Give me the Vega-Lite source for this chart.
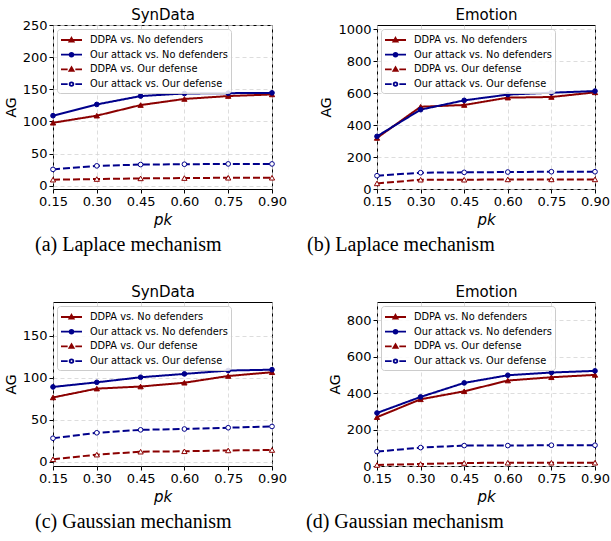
{
  "$schema": "https://vega.github.io/schema/vega-lite/v6.json",
  "background": "white",
  "padding": {"left": 3, "top": 6, "right": 2, "bottom": 5},
  "datasets": {
    "ag": [
      {"panel": "a", "pk": 0.15, "series": "DDPA vs. No defenders", "ag": 98},
      {"panel": "a", "pk": 0.30, "series": "DDPA vs. No defenders", "ag": 109},
      {"panel": "a", "pk": 0.45, "series": "DDPA vs. No defenders", "ag": 125.5},
      {"panel": "a", "pk": 0.60, "series": "DDPA vs. No defenders", "ag": 135},
      {"panel": "a", "pk": 0.75, "series": "DDPA vs. No defenders", "ag": 139.5},
      {"panel": "a", "pk": 0.90, "series": "DDPA vs. No defenders", "ag": 142},
      {"panel": "a", "pk": 0.15, "series": "Our attack vs. No defenders", "ag": 109},
      {"panel": "a", "pk": 0.30, "series": "Our attack vs. No defenders", "ag": 126.5},
      {"panel": "a", "pk": 0.45, "series": "Our attack vs. No defenders", "ag": 139.5},
      {"panel": "a", "pk": 0.60, "series": "Our attack vs. No defenders", "ag": 143.5},
      {"panel": "a", "pk": 0.75, "series": "Our attack vs. No defenders", "ag": 144},
      {"panel": "a", "pk": 0.90, "series": "Our attack vs. No defenders", "ag": 144.5},
      {"panel": "a", "pk": 0.15, "series": "DDPA vs. Our defense", "ag": 9.5},
      {"panel": "a", "pk": 0.30, "series": "DDPA vs. Our defense", "ag": 10.5},
      {"panel": "a", "pk": 0.45, "series": "DDPA vs. Our defense", "ag": 11.5},
      {"panel": "a", "pk": 0.60, "series": "DDPA vs. Our defense", "ag": 12},
      {"panel": "a", "pk": 0.75, "series": "DDPA vs. Our defense", "ag": 12.5},
      {"panel": "a", "pk": 0.90, "series": "DDPA vs. Our defense", "ag": 12.5},
      {"panel": "a", "pk": 0.15, "series": "Our attack vs. Our defense", "ag": 25.5},
      {"panel": "a", "pk": 0.30, "series": "Our attack vs. Our defense", "ag": 31},
      {"panel": "a", "pk": 0.45, "series": "Our attack vs. Our defense", "ag": 33},
      {"panel": "a", "pk": 0.60, "series": "Our attack vs. Our defense", "ag": 33.5},
      {"panel": "a", "pk": 0.75, "series": "Our attack vs. Our defense", "ag": 34},
      {"panel": "a", "pk": 0.90, "series": "Our attack vs. Our defense", "ag": 34},

      {"panel": "b", "pk": 0.15, "series": "DDPA vs. No defenders", "ag": 319},
      {"panel": "b", "pk": 0.30, "series": "DDPA vs. No defenders", "ag": 514},
      {"panel": "b", "pk": 0.45, "series": "DDPA vs. No defenders", "ag": 525},
      {"panel": "b", "pk": 0.60, "series": "DDPA vs. No defenders", "ag": 571},
      {"panel": "b", "pk": 0.75, "series": "DDPA vs. No defenders", "ag": 575},
      {"panel": "b", "pk": 0.90, "series": "DDPA vs. No defenders", "ag": 604},
      {"panel": "b", "pk": 0.15, "series": "Our attack vs. No defenders", "ag": 329},
      {"panel": "b", "pk": 0.30, "series": "Our attack vs. No defenders", "ag": 496},
      {"panel": "b", "pk": 0.45, "series": "Our attack vs. No defenders", "ag": 554},
      {"panel": "b", "pk": 0.60, "series": "Our attack vs. No defenders", "ag": 590},
      {"panel": "b", "pk": 0.75, "series": "Our attack vs. No defenders", "ag": 602},
      {"panel": "b", "pk": 0.90, "series": "Our attack vs. No defenders", "ag": 612},
      {"panel": "b", "pk": 0.15, "series": "DDPA vs. Our defense", "ag": 35},
      {"panel": "b", "pk": 0.30, "series": "DDPA vs. Our defense", "ag": 58},
      {"panel": "b", "pk": 0.45, "series": "DDPA vs. Our defense", "ag": 58},
      {"panel": "b", "pk": 0.60, "series": "DDPA vs. Our defense", "ag": 60},
      {"panel": "b", "pk": 0.75, "series": "DDPA vs. Our defense", "ag": 60},
      {"panel": "b", "pk": 0.90, "series": "DDPA vs. Our defense", "ag": 60},
      {"panel": "b", "pk": 0.15, "series": "Our attack vs. Our defense", "ag": 83},
      {"panel": "b", "pk": 0.30, "series": "Our attack vs. Our defense", "ag": 102},
      {"panel": "b", "pk": 0.45, "series": "Our attack vs. Our defense", "ag": 104},
      {"panel": "b", "pk": 0.60, "series": "Our attack vs. Our defense", "ag": 106},
      {"panel": "b", "pk": 0.75, "series": "Our attack vs. Our defense", "ag": 108},
      {"panel": "b", "pk": 0.90, "series": "Our attack vs. Our defense", "ag": 108},

      {"panel": "c", "pk": 0.15, "series": "DDPA vs. No defenders", "ag": 76.5},
      {"panel": "c", "pk": 0.30, "series": "DDPA vs. No defenders", "ag": 87},
      {"panel": "c", "pk": 0.45, "series": "DDPA vs. No defenders", "ag": 89.5},
      {"panel": "c", "pk": 0.60, "series": "DDPA vs. No defenders", "ag": 94},
      {"panel": "c", "pk": 0.75, "series": "DDPA vs. No defenders", "ag": 102},
      {"panel": "c", "pk": 0.90, "series": "DDPA vs. No defenders", "ag": 106.5},
      {"panel": "c", "pk": 0.15, "series": "Our attack vs. No defenders", "ag": 89},
      {"panel": "c", "pk": 0.30, "series": "Our attack vs. No defenders", "ag": 94.5},
      {"panel": "c", "pk": 0.45, "series": "Our attack vs. No defenders", "ag": 100.5},
      {"panel": "c", "pk": 0.60, "series": "Our attack vs. No defenders", "ag": 104.5},
      {"panel": "c", "pk": 0.75, "series": "Our attack vs. No defenders", "ag": 108.5},
      {"panel": "c", "pk": 0.90, "series": "Our attack vs. No defenders", "ag": 109.5},
      {"panel": "c", "pk": 0.15, "series": "DDPA vs. Our defense", "ag": 3},
      {"panel": "c", "pk": 0.30, "series": "DDPA vs. Our defense", "ag": 8.5},
      {"panel": "c", "pk": 0.45, "series": "DDPA vs. Our defense", "ag": 12},
      {"panel": "c", "pk": 0.60, "series": "DDPA vs. Our defense", "ag": 12.5},
      {"panel": "c", "pk": 0.75, "series": "DDPA vs. Our defense", "ag": 13.5},
      {"panel": "c", "pk": 0.90, "series": "DDPA vs. Our defense", "ag": 14},
      {"panel": "c", "pk": 0.15, "series": "Our attack vs. Our defense", "ag": 28},
      {"panel": "c", "pk": 0.30, "series": "Our attack vs. Our defense", "ag": 34.5},
      {"panel": "c", "pk": 0.45, "series": "Our attack vs. Our defense", "ag": 38},
      {"panel": "c", "pk": 0.60, "series": "Our attack vs. Our defense", "ag": 39},
      {"panel": "c", "pk": 0.75, "series": "Our attack vs. Our defense", "ag": 40.5},
      {"panel": "c", "pk": 0.90, "series": "Our attack vs. Our defense", "ag": 42},

      {"panel": "d", "pk": 0.15, "series": "DDPA vs. No defenders", "ag": 268},
      {"panel": "d", "pk": 0.30, "series": "DDPA vs. No defenders", "ag": 366},
      {"panel": "d", "pk": 0.45, "series": "DDPA vs. No defenders", "ag": 410},
      {"panel": "d", "pk": 0.60, "series": "DDPA vs. No defenders", "ag": 469},
      {"panel": "d", "pk": 0.75, "series": "DDPA vs. No defenders", "ag": 487},
      {"panel": "d", "pk": 0.90, "series": "DDPA vs. No defenders", "ag": 500},
      {"panel": "d", "pk": 0.15, "series": "Our attack vs. No defenders", "ag": 291},
      {"panel": "d", "pk": 0.30, "series": "Our attack vs. No defenders", "ag": 379},
      {"panel": "d", "pk": 0.45, "series": "Our attack vs. No defenders", "ag": 456},
      {"panel": "d", "pk": 0.60, "series": "Our attack vs. No defenders", "ag": 498},
      {"panel": "d", "pk": 0.75, "series": "Our attack vs. No defenders", "ag": 513},
      {"panel": "d", "pk": 0.90, "series": "Our attack vs. No defenders", "ag": 522},
      {"panel": "d", "pk": 0.15, "series": "DDPA vs. Our defense", "ag": 5.5},
      {"panel": "d", "pk": 0.30, "series": "DDPA vs. Our defense", "ag": 11},
      {"panel": "d", "pk": 0.45, "series": "DDPA vs. Our defense", "ag": 16.5},
      {"panel": "d", "pk": 0.60, "series": "DDPA vs. Our defense", "ag": 18},
      {"panel": "d", "pk": 0.75, "series": "DDPA vs. Our defense", "ag": 18},
      {"panel": "d", "pk": 0.90, "series": "DDPA vs. Our defense", "ag": 18},
      {"panel": "d", "pk": 0.15, "series": "Our attack vs. Our defense", "ag": 79},
      {"panel": "d", "pk": 0.30, "series": "Our attack vs. Our defense", "ag": 101},
      {"panel": "d", "pk": 0.45, "series": "Our attack vs. Our defense", "ag": 112},
      {"panel": "d", "pk": 0.60, "series": "Our attack vs. Our defense", "ag": 112},
      {"panel": "d", "pk": 0.75, "series": "Our attack vs. Our defense", "ag": 114},
      {"panel": "d", "pk": 0.90, "series": "Our attack vs. Our defense", "ag": 114}
    ]
  },
  "data": {"name": "ag"},
  "spacing": 27,
  "resolve": {
    "scale": {"color": "independent", "strokeDash": "independent", "stroke": "independent", "fill": "independent", "shape": "independent"},
    "legend": {"stroke": "independent", "fill": "independent", "shape": "independent"}
  },
  "vconcat": [
    {
      "bounds": "flush",
      "spacing": 105,
      "resolve": {
        "scale": {"color": "independent", "strokeDash": "independent", "stroke": "independent", "fill": "independent", "shape": "independent"},
        "legend": {"stroke": "independent", "fill": "independent", "shape": "independent"}
      },
      "hconcat": [
        {
          "width": 219, "height": 164,
          "title": {"text": "(a) Laplace mechanism", "dx": -18},
          "transform": [{"filter": "datum.panel == 'a'"}],
          "resolve": {"axis": {"x": "independent", "y": "independent"}},
          "layer": [
            {
              "mark": {"type": "line", "strokeWidth": 2},
              "encoding": {
                "x": {"field": "pk", "type": "quantitative", "scale": {"domain": [0.15, 0.9], "nice": false, "zero": false}, "axis": {"values": [0.15, 0.3, 0.45, 0.6, 0.75, 0.9], "format": ".2f", "title": "pk", "titleFontStyle": "italic", "titleFontSize": 15}},
                "y": {"field": "ag", "type": "quantitative", "scale": {"domain": [-5, 250], "nice": false, "zero": false}, "axis": {"values": [0, 50, 100, 150, 200, 250], "format": "d", "title": "AG"}},
                "color": {"field": "series", "type": "nominal", "scale": {"range": ["#8b0000", "#8b0000", "#00008b", "#00008b"]}, "legend": null},
                "strokeDash": {"field": "series", "type": "nominal", "scale": {"range": [[1, 0], [7, 3], [1, 0], [7, 3]]}, "legend": null}
              }
            },
            {
              "transform": [{"filter": {"field": "series", "equal": "DDPA vs. No defenders"}}],
              "mark": {"type": "point", "shape": "triangle-up", "size": 28, "strokeWidth": 1, "opacity": 1, "stroke": "#8b0000", "fill": "#8b0000"},
              "encoding": {"x": {"field": "pk", "type": "quantitative", "axis": null}, "y": {"field": "ag", "type": "quantitative", "axis": null}}
            },
            {
              "transform": [{"filter": {"field": "series", "equal": "DDPA vs. Our defense"}}],
              "mark": {"type": "point", "shape": "triangle-up", "size": 28, "strokeWidth": 1, "opacity": 1, "stroke": "#8b0000", "fill": "#ffffff"},
              "encoding": {"x": {"field": "pk", "type": "quantitative", "axis": null}, "y": {"field": "ag", "type": "quantitative", "axis": null}}
            },
            {
              "transform": [{"filter": {"field": "series", "equal": "Our attack vs. No defenders"}}],
              "mark": {"type": "point", "shape": "circle", "size": 22, "strokeWidth": 1, "opacity": 1, "stroke": "#00008b", "fill": "#00008b"},
              "encoding": {"x": {"field": "pk", "type": "quantitative", "axis": null}, "y": {"field": "ag", "type": "quantitative", "axis": null}}
            },
            {
              "transform": [{"filter": {"field": "series", "equal": "Our attack vs. Our defense"}}],
              "mark": {"type": "point", "shape": "circle", "size": 22, "strokeWidth": 1, "opacity": 1, "stroke": "#00008b", "fill": "#ffffff"},
              "encoding": {"x": {"field": "pk", "type": "quantitative", "axis": null}, "y": {"field": "ag", "type": "quantitative", "axis": null}}
            },
            {
              "mark": {"type": "point", "opacity": 0},
              "encoding": {
                "x": {"field": "pk", "type": "quantitative", "axis": {"orient": "top", "title": "SynData", "labels": false, "ticks": false, "grid": false, "domain": false, "titlePadding": 3, "titleFontSize": 15}},
                "y": {"field": "ag", "type": "quantitative", "axis": null},
                "stroke": {"field": "series", "type": "nominal", "title": null, "scale": {"domain": ["DDPA vs. No defenders", "Our attack vs. No defenders", "DDPA vs. Our defense", "Our attack vs. Our defense"], "range": ["#8b0000", "#00008b", "#8b0000", "#00008b"]}},
                "fill": {"field": "series", "type": "nominal", "title": null, "scale": {"domain": ["DDPA vs. No defenders", "Our attack vs. No defenders", "DDPA vs. Our defense", "Our attack vs. Our defense"], "range": ["#8b0000", "#00008b", "#ffffff", "#ffffff"]}},
                "shape": {"field": "series", "type": "nominal", "title": null, "scale": {"domain": ["DDPA vs. No defenders", "Our attack vs. No defenders", "DDPA vs. Our defense", "Our attack vs. Our defense"], "range": ["M-1,0H2M0.5,-0.3L0.8,0.22H0.2Z", "M-1,0H2M0.76,0A0.26,0.26,0,1,1,0.24,0A0.26,0.26,0,1,1,0.76,0Z", "M-1,0H-0.05M1.05,0H2M0.5,-0.3L0.8,0.22H0.2Z", "M-1,0H-0.05M1.05,0H2M0.76,0A0.26,0.26,0,1,1,0.24,0A0.26,0.26,0,1,1,0.76,0Z"]}}
              }
            }
          ]
        },
        {
          "width": 218, "height": 164,
          "title": {"text": "(b) Laplace mechanism", "dx": -70},
          "transform": [{"filter": "datum.panel == 'b'"}],
          "resolve": {"axis": {"x": "independent", "y": "independent"}},
          "layer": [
            {
              "mark": {"type": "line", "strokeWidth": 2},
              "encoding": {
                "x": {"field": "pk", "type": "quantitative", "scale": {"domain": [0.15, 0.9], "nice": false, "zero": false}, "axis": {"values": [0.15, 0.3, 0.45, 0.6, 0.75, 0.9], "format": ".2f", "title": "pk", "titleFontStyle": "italic", "titleFontSize": 15}},
                "y": {"field": "ag", "type": "quantitative", "scale": {"domain": [0, 1025], "nice": false, "zero": false}, "axis": {"values": [0, 200, 400, 600, 800, 1000], "format": "d", "title": "AG"}},
                "color": {"field": "series", "type": "nominal", "scale": {"range": ["#8b0000", "#8b0000", "#00008b", "#00008b"]}, "legend": null},
                "strokeDash": {"field": "series", "type": "nominal", "scale": {"range": [[1, 0], [7, 3], [1, 0], [7, 3]]}, "legend": null}
              }
            },
            {
              "transform": [{"filter": {"field": "series", "equal": "DDPA vs. No defenders"}}],
              "mark": {"type": "point", "shape": "triangle-up", "size": 28, "strokeWidth": 1, "opacity": 1, "stroke": "#8b0000", "fill": "#8b0000"},
              "encoding": {"x": {"field": "pk", "type": "quantitative", "axis": null}, "y": {"field": "ag", "type": "quantitative", "axis": null}}
            },
            {
              "transform": [{"filter": {"field": "series", "equal": "DDPA vs. Our defense"}}],
              "mark": {"type": "point", "shape": "triangle-up", "size": 28, "strokeWidth": 1, "opacity": 1, "stroke": "#8b0000", "fill": "#ffffff"},
              "encoding": {"x": {"field": "pk", "type": "quantitative", "axis": null}, "y": {"field": "ag", "type": "quantitative", "axis": null}}
            },
            {
              "transform": [{"filter": {"field": "series", "equal": "Our attack vs. No defenders"}}],
              "mark": {"type": "point", "shape": "circle", "size": 22, "strokeWidth": 1, "opacity": 1, "stroke": "#00008b", "fill": "#00008b"},
              "encoding": {"x": {"field": "pk", "type": "quantitative", "axis": null}, "y": {"field": "ag", "type": "quantitative", "axis": null}}
            },
            {
              "transform": [{"filter": {"field": "series", "equal": "Our attack vs. Our defense"}}],
              "mark": {"type": "point", "shape": "circle", "size": 22, "strokeWidth": 1, "opacity": 1, "stroke": "#00008b", "fill": "#ffffff"},
              "encoding": {"x": {"field": "pk", "type": "quantitative", "axis": null}, "y": {"field": "ag", "type": "quantitative", "axis": null}}
            },
            {
              "mark": {"type": "point", "opacity": 0},
              "encoding": {
                "x": {"field": "pk", "type": "quantitative", "axis": {"orient": "top", "title": "Emotion", "labels": false, "ticks": false, "grid": false, "domain": false, "titlePadding": 3, "titleFontSize": 15}},
                "y": {"field": "ag", "type": "quantitative", "axis": null},
                "stroke": {"field": "series", "type": "nominal", "title": null, "scale": {"domain": ["DDPA vs. No defenders", "Our attack vs. No defenders", "DDPA vs. Our defense", "Our attack vs. Our defense"], "range": ["#8b0000", "#00008b", "#8b0000", "#00008b"]}},
                "fill": {"field": "series", "type": "nominal", "title": null, "scale": {"domain": ["DDPA vs. No defenders", "Our attack vs. No defenders", "DDPA vs. Our defense", "Our attack vs. Our defense"], "range": ["#8b0000", "#00008b", "#ffffff", "#ffffff"]}},
                "shape": {"field": "series", "type": "nominal", "title": null, "scale": {"domain": ["DDPA vs. No defenders", "Our attack vs. No defenders", "DDPA vs. Our defense", "Our attack vs. Our defense"], "range": ["M-1,0H2M0.5,-0.3L0.8,0.22H0.2Z", "M-1,0H2M0.76,0A0.26,0.26,0,1,1,0.24,0A0.26,0.26,0,1,1,0.76,0Z", "M-1,0H-0.05M1.05,0H2M0.5,-0.3L0.8,0.22H0.2Z", "M-1,0H-0.05M1.05,0H2M0.76,0A0.26,0.26,0,1,1,0.24,0A0.26,0.26,0,1,1,0.76,0Z"]}}
              }
            }
          ]
        }
      ]
    },
    {
      "bounds": "flush",
      "spacing": 105,
      "resolve": {
        "scale": {"color": "independent", "strokeDash": "independent", "stroke": "independent", "fill": "independent", "shape": "independent"},
        "legend": {"stroke": "independent", "fill": "independent", "shape": "independent"}
      },
      "hconcat": [
        {
          "width": 219, "height": 164,
          "title": {"text": "(c) Gaussian mechanism", "dx": -18},
          "transform": [{"filter": "datum.panel == 'c'"}],
          "resolve": {"axis": {"x": "independent", "y": "independent"}},
          "layer": [
            {
              "mark": {"type": "line", "strokeWidth": 2},
              "encoding": {
                "x": {"field": "pk", "type": "quantitative", "scale": {"domain": [0.15, 0.9], "nice": false, "zero": false}, "axis": {"values": [0.15, 0.3, 0.45, 0.6, 0.75, 0.9], "format": ".2f", "title": "pk", "titleFontStyle": "italic", "titleFontSize": 15}},
                "y": {"field": "ag", "type": "quantitative", "scale": {"domain": [-5, 190], "nice": false, "zero": false}, "axis": {"values": [0, 50, 100, 150], "format": "d", "title": "AG"}},
                "color": {"field": "series", "type": "nominal", "scale": {"range": ["#8b0000", "#8b0000", "#00008b", "#00008b"]}, "legend": null},
                "strokeDash": {"field": "series", "type": "nominal", "scale": {"range": [[1, 0], [7, 3], [1, 0], [7, 3]]}, "legend": null}
              }
            },
            {
              "transform": [{"filter": {"field": "series", "equal": "DDPA vs. No defenders"}}],
              "mark": {"type": "point", "shape": "triangle-up", "size": 28, "strokeWidth": 1, "opacity": 1, "stroke": "#8b0000", "fill": "#8b0000"},
              "encoding": {"x": {"field": "pk", "type": "quantitative", "axis": null}, "y": {"field": "ag", "type": "quantitative", "axis": null}}
            },
            {
              "transform": [{"filter": {"field": "series", "equal": "DDPA vs. Our defense"}}],
              "mark": {"type": "point", "shape": "triangle-up", "size": 28, "strokeWidth": 1, "opacity": 1, "stroke": "#8b0000", "fill": "#ffffff"},
              "encoding": {"x": {"field": "pk", "type": "quantitative", "axis": null}, "y": {"field": "ag", "type": "quantitative", "axis": null}}
            },
            {
              "transform": [{"filter": {"field": "series", "equal": "Our attack vs. No defenders"}}],
              "mark": {"type": "point", "shape": "circle", "size": 22, "strokeWidth": 1, "opacity": 1, "stroke": "#00008b", "fill": "#00008b"},
              "encoding": {"x": {"field": "pk", "type": "quantitative", "axis": null}, "y": {"field": "ag", "type": "quantitative", "axis": null}}
            },
            {
              "transform": [{"filter": {"field": "series", "equal": "Our attack vs. Our defense"}}],
              "mark": {"type": "point", "shape": "circle", "size": 22, "strokeWidth": 1, "opacity": 1, "stroke": "#00008b", "fill": "#ffffff"},
              "encoding": {"x": {"field": "pk", "type": "quantitative", "axis": null}, "y": {"field": "ag", "type": "quantitative", "axis": null}}
            },
            {
              "mark": {"type": "point", "opacity": 0},
              "encoding": {
                "x": {"field": "pk", "type": "quantitative", "axis": {"orient": "top", "title": "SynData", "labels": false, "ticks": false, "grid": false, "domain": false, "titlePadding": 3, "titleFontSize": 15}},
                "y": {"field": "ag", "type": "quantitative", "axis": null},
                "stroke": {"field": "series", "type": "nominal", "title": null, "scale": {"domain": ["DDPA vs. No defenders", "Our attack vs. No defenders", "DDPA vs. Our defense", "Our attack vs. Our defense"], "range": ["#8b0000", "#00008b", "#8b0000", "#00008b"]}},
                "fill": {"field": "series", "type": "nominal", "title": null, "scale": {"domain": ["DDPA vs. No defenders", "Our attack vs. No defenders", "DDPA vs. Our defense", "Our attack vs. Our defense"], "range": ["#8b0000", "#00008b", "#ffffff", "#ffffff"]}},
                "shape": {"field": "series", "type": "nominal", "title": null, "scale": {"domain": ["DDPA vs. No defenders", "Our attack vs. No defenders", "DDPA vs. Our defense", "Our attack vs. Our defense"], "range": ["M-1,0H2M0.5,-0.3L0.8,0.22H0.2Z", "M-1,0H2M0.76,0A0.26,0.26,0,1,1,0.24,0A0.26,0.26,0,1,1,0.76,0Z", "M-1,0H-0.05M1.05,0H2M0.5,-0.3L0.8,0.22H0.2Z", "M-1,0H-0.05M1.05,0H2M0.76,0A0.26,0.26,0,1,1,0.24,0A0.26,0.26,0,1,1,0.76,0Z"]}}
              }
            }
          ]
        },
        {
          "width": 218, "height": 164,
          "title": {"text": "(d) Gaussian mechanism", "dx": -71},
          "transform": [{"filter": "datum.panel == 'd'"}],
          "resolve": {"axis": {"x": "independent", "y": "independent"}},
          "layer": [
            {
              "mark": {"type": "line", "strokeWidth": 2},
              "encoding": {
                "x": {"field": "pk", "type": "quantitative", "scale": {"domain": [0.15, 0.9], "nice": false, "zero": false}, "axis": {"values": [0.15, 0.3, 0.45, 0.6, 0.75, 0.9], "format": ".2f", "title": "pk", "titleFontStyle": "italic", "titleFontSize": 15}},
                "y": {"field": "ag", "type": "quantitative", "scale": {"domain": [0, 900], "nice": false, "zero": false}, "axis": {"values": [0, 200, 400, 600, 800], "format": "d", "title": "AG"}},
                "color": {"field": "series", "type": "nominal", "scale": {"range": ["#8b0000", "#8b0000", "#00008b", "#00008b"]}, "legend": null},
                "strokeDash": {"field": "series", "type": "nominal", "scale": {"range": [[1, 0], [7, 3], [1, 0], [7, 3]]}, "legend": null}
              }
            },
            {
              "transform": [{"filter": {"field": "series", "equal": "DDPA vs. No defenders"}}],
              "mark": {"type": "point", "shape": "triangle-up", "size": 28, "strokeWidth": 1, "opacity": 1, "stroke": "#8b0000", "fill": "#8b0000"},
              "encoding": {"x": {"field": "pk", "type": "quantitative", "axis": null}, "y": {"field": "ag", "type": "quantitative", "axis": null}}
            },
            {
              "transform": [{"filter": {"field": "series", "equal": "DDPA vs. Our defense"}}],
              "mark": {"type": "point", "shape": "triangle-up", "size": 28, "strokeWidth": 1, "opacity": 1, "stroke": "#8b0000", "fill": "#ffffff"},
              "encoding": {"x": {"field": "pk", "type": "quantitative", "axis": null}, "y": {"field": "ag", "type": "quantitative", "axis": null}}
            },
            {
              "transform": [{"filter": {"field": "series", "equal": "Our attack vs. No defenders"}}],
              "mark": {"type": "point", "shape": "circle", "size": 22, "strokeWidth": 1, "opacity": 1, "stroke": "#00008b", "fill": "#00008b"},
              "encoding": {"x": {"field": "pk", "type": "quantitative", "axis": null}, "y": {"field": "ag", "type": "quantitative", "axis": null}}
            },
            {
              "transform": [{"filter": {"field": "series", "equal": "Our attack vs. Our defense"}}],
              "mark": {"type": "point", "shape": "circle", "size": 22, "strokeWidth": 1, "opacity": 1, "stroke": "#00008b", "fill": "#ffffff"},
              "encoding": {"x": {"field": "pk", "type": "quantitative", "axis": null}, "y": {"field": "ag", "type": "quantitative", "axis": null}}
            },
            {
              "mark": {"type": "point", "opacity": 0},
              "encoding": {
                "x": {"field": "pk", "type": "quantitative", "axis": {"orient": "top", "title": "Emotion", "labels": false, "ticks": false, "grid": false, "domain": false, "titlePadding": 3, "titleFontSize": 15}},
                "y": {"field": "ag", "type": "quantitative", "axis": null},
                "stroke": {"field": "series", "type": "nominal", "title": null, "scale": {"domain": ["DDPA vs. No defenders", "Our attack vs. No defenders", "DDPA vs. Our defense", "Our attack vs. Our defense"], "range": ["#8b0000", "#00008b", "#8b0000", "#00008b"]}},
                "fill": {"field": "series", "type": "nominal", "title": null, "scale": {"domain": ["DDPA vs. No defenders", "Our attack vs. No defenders", "DDPA vs. Our defense", "Our attack vs. Our defense"], "range": ["#8b0000", "#00008b", "#ffffff", "#ffffff"]}},
                "shape": {"field": "series", "type": "nominal", "title": null, "scale": {"domain": ["DDPA vs. No defenders", "Our attack vs. No defenders", "DDPA vs. Our defense", "Our attack vs. Our defense"], "range": ["M-1,0H2M0.5,-0.3L0.8,0.22H0.2Z", "M-1,0H2M0.76,0A0.26,0.26,0,1,1,0.24,0A0.26,0.26,0,1,1,0.76,0Z", "M-1,0H-0.05M1.05,0H2M0.5,-0.3L0.8,0.22H0.2Z", "M-1,0H-0.05M1.05,0H2M0.76,0A0.26,0.26,0,1,1,0.24,0A0.26,0.26,0,1,1,0.76,0Z"]}}
              }
            }
          ]
        }
      ]
    }
  ],
  "config": {
    "font": "DejaVu Sans",
    "view": {"stroke": "#000000", "strokeWidth": 1},
    "axis": {
      "labelFont": "DejaVu Sans",
      "labelFontSize": 13,
      "labelColor": "#000000",
      "labelFlush": false,
      "labelOverlap": false,
      "labelPadding": 2,
      "tickColor": "#000000",
      "tickSize": 4,
      "domain": false,
      "gridColor": "#d4d4d4",
      "gridDash": [4, 3],
      "gridWidth": 0.8,
      "titleFont": "DejaVu Sans",
      "titleFontWeight": "normal",
      "titleFontSize": 14,
      "titleColor": "#000000",
      "titlePadding": 4
    },
    "title": {
      "orient": "bottom",
      "anchor": "start",
      "frame": "group",
      "font": "Liberation Serif",
      "fontSize": 20,
      "fontWeight": "normal",
      "color": "#000000",
      "offset": 8
    },
    "legend": {
      "orient": "top-left",
      "offset": 4,
      "padding": 3,
      "rowPadding": 0.7,
      "symbolSize": 196,
      "symbolStrokeWidth": 1.8,
      "labelFont": "DejaVu Sans",
      "labelFontSize": 9.8,
      "labelColor": "#000000",
      "labelOffset": 14,
      "labelLimit": 300,
      "strokeColor": "#cccccc",
      "fillColor": "rgba(255,255,255,0.85)",
      "cornerRadius": 3
    }
  }
}
